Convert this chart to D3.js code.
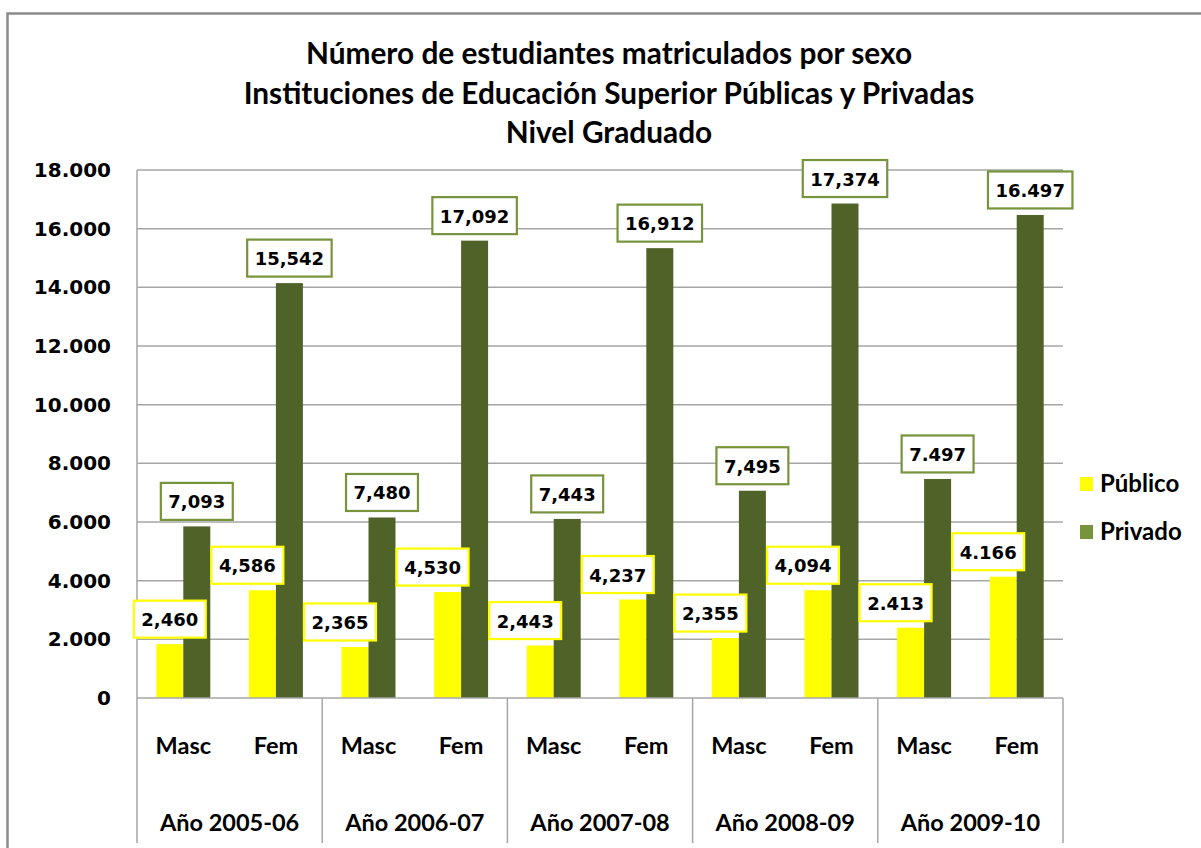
<!DOCTYPE html>
<html>
<head>
<meta charset="utf-8">
<script src="https://cdn.jsdelivr.net/npm/d3@7/dist/d3.min.js"></script>
<style>
  html, body { margin: 0; padding: 0; background: #fff; }
  svg { display: block; }
</style>
</head>
<body>
<svg id="chart" width="1201" height="848"></svg>
<script>
// ---------- DATA ----------
const years = ["Año 2005-06", "Año 2006-07", "Año 2007-08", "Año 2008-09", "Año 2009-10"];
const sexes = ["Masc", "Fem"];
const seriesNames = ["Público", "Privado"];
// bar heights as drawn, order: year x sex
const publicoValues = [1836, 3673, 1739, 3612, 1788, 3357, 2043, 3673, 2396, 4135];
const privadoValues = [5850, 14144, 6154, 15592, 6105, 15336, 7066, 16857, 7467, 16467];
// data-label texts as printed on the chart
const publicoLabels = ["2,460", "4,586", "2,365", "4,530", "2,443", "4,237", "2,355", "4,094", "2.413", "4.166"];
const privadoLabels = ["7,093", "15,542", "7,480", "17,092", "7,443", "16,912", "7,495", "17,374", "7.497", "16.497"];
const yTicks = [0, 2000, 4000, 6000, 8000, 10000, 12000, 14000, 16000, 18000];
const titleLines = ["Número de estudiantes matriculados por sexo",
                    "Instituciones de Educación Superior Públicas y Privadas",
                    "Nivel Graduado"];

// ---------- LAYOUT ----------
const svg = d3.select("#chart");
const plot = { left: 137, right: 1063, top: 170, bottom: 698 };
const colors = { "Público": "#FFFF00", "Privado": "#4F6228" };
const legendColors = { "Público": "#FFFF00", "Privado": "#77933C" };
const labelStroke = { "Público": "#FFFF00", "Privado": "#77933C" };
const gridColor = "#A6A6A6";
const catFont = "Lato, 'Liberation Sans', sans-serif";
const numFont = "'DejaVu Sans', Verdana, sans-serif";

// outer chart border
svg.append("rect").attr("x", 7.5).attr("y", 13.5).attr("width", 1300).attr("height", 1000)
  .attr("fill", "none").attr("stroke", "#8C8C8C").attr("stroke-width", 2.5);

// title
svg.append("g").selectAll("text").data(titleLines).join("text")
  .attr("x", 609).attr("y", (d, i) => 64 + i * 39.5)
  .attr("text-anchor", "middle")
  .attr("font-family", catFont).attr("font-weight", "bold").attr("font-size", 29.8)
  .attr("fill", "#000").text(d => d);

// scales
const y = d3.scaleLinear().domain([0, 18000]).range([plot.bottom, plot.top]);
const xYear = d3.scaleBand().domain(years).range([plot.left, plot.right]).padding(0);
const xSex = d3.scaleBand().domain(sexes).range([0, xYear.bandwidth()]).padding(0);
const xSeries = d3.scaleBand().domain(seriesNames).range([0, xSex.bandwidth()])
  .paddingInner(0).paddingOuter(0.715);

// gridlines
svg.append("g").selectAll("line").data(yTicks.slice(1)).join("line")
  .attr("x1", plot.left).attr("x2", plot.right)
  .attr("y1", d => y(d)).attr("y2", d => y(d))
  .attr("stroke", gridColor).attr("stroke-width", 1.5);

// y axis via d3 axis (labels only)
const yAxis = svg.append("g").attr("transform", `translate(${plot.left},0)`)
  .call(d3.axisLeft(y).tickValues(yTicks).tickSize(0).tickPadding(26)
    .tickFormat(d => d3.format(",")(d).replace(/,/g, ".")));
yAxis.select(".domain").remove();
yAxis.selectAll("text").attr("font-family", numFont).attr("font-weight", "bold")
  .attr("font-size", 20).attr("fill", "#000");

// build flat records
const records = [];
years.forEach((yr, i) => sexes.forEach((sx, j) => {
  const k = i * 2 + j;
  records.push({ year: yr, sex: sx, k,
    values: { "Público": publicoValues[k], "Privado": privadoValues[k] },
    labels: { "Público": publicoLabels[k], "Privado": privadoLabels[k] } });
}));

// bars
const barG = svg.append("g");
records.forEach(r => {
  seriesNames.forEach(s => {
    const x0 = xYear(r.year) + xSex(r.sex) + xSeries(s);
    barG.append("rect")
      .attr("x", x0).attr("y", y(r.values[s]))
      .attr("width", xSeries.bandwidth()).attr("height", y(0) - y(r.values[s]))
      .attr("fill", colors[s]);
  });
});

// x axis line + separators
svg.append("line").attr("x1", plot.left).attr("x2", plot.right)
  .attr("y1", y(0)).attr("y2", y(0)).attr("stroke", gridColor).attr("stroke-width", 1.5);
svg.append("line").attr("x1", plot.left).attr("x2", plot.left)
  .attr("y1", plot.top).attr("y2", 843).attr("stroke", gridColor).attr("stroke-width", 1.5);
svg.append("g").selectAll("line").data(years).join("line")
  .attr("x1", d => xYear(d) + xYear.bandwidth()).attr("x2", d => xYear(d) + xYear.bandwidth())
  .attr("y1", y(0)).attr("y2", 843).attr("stroke", gridColor).attr("stroke-width", 1.5);

// category labels
const catG = svg.append("g").attr("font-family", catFont).attr("font-weight", "bold")
  .attr("font-size", 23.5).attr("fill", "#000").attr("text-anchor", "middle");
records.forEach(r => {
  catG.append("text").attr("x", xYear(r.year) + xSex(r.sex) + xSex.bandwidth() / 2)
    .attr("y", 754).text(r.sex);
});
years.forEach(yr => {
  catG.append("text").attr("x", xYear(yr) + xYear.bandwidth() / 2).attr("y", 831).text(yr);
});

// data labels
const labG = svg.append("g");
function drawLabel(cx, cy, txt, stroke) {
  const g = labG.append("g");
  const t = g.append("text").attr("x", cx).attr("y", cy + 7)
    .attr("text-anchor", "middle").attr("font-family", numFont).attr("font-weight", "bold")
    .attr("font-size", 18).attr("fill", "#000").text(txt);
  const w = t.node().getComputedTextLength() + 15;
  g.insert("rect", "text").attr("x", cx - w / 2).attr("y", cy - 18.5)
    .attr("width", w).attr("height", 37).attr("fill", "#fff")
    .attr("stroke", stroke).attr("stroke-width", 2.2);
}
const pubShift = d => (d.k === 0 ? 0 : -15);
// Público labels first (under), then Privado
records.forEach(r => {
  const s = "Público";
  const cx = xYear(r.year) + xSex(r.sex) + xSeries(s) + xSeries.bandwidth() / 2 + pubShift(r);
  drawLabel(cx, y(r.values[s]) - 25, r.labels[s], labelStroke[s]);
});
records.forEach(r => {
  const s = "Privado";
  const cx = xYear(r.year) + xSex(r.sex) + xSeries(s) + xSeries.bandwidth() / 2;
  drawLabel(cx, y(r.values[s]) - 25, r.labels[s], labelStroke[s]);
});

// legend
const legG = svg.append("g");
seriesNames.forEach((s, i) => {
  const cy = 484 + i * 48;
  legG.append("rect").attr("x", 1080).attr("y", cy - 7).attr("width", 13).attr("height", 14)
    .attr("fill", legendColors[s]);
  legG.append("text").attr("x", 1100).attr("y", cy + 8)
    .attr("font-family", catFont).attr("font-weight", "bold").attr("font-size", 24)
    .attr("fill", "#000").text(s);
});
</script>
</body>
</html>
